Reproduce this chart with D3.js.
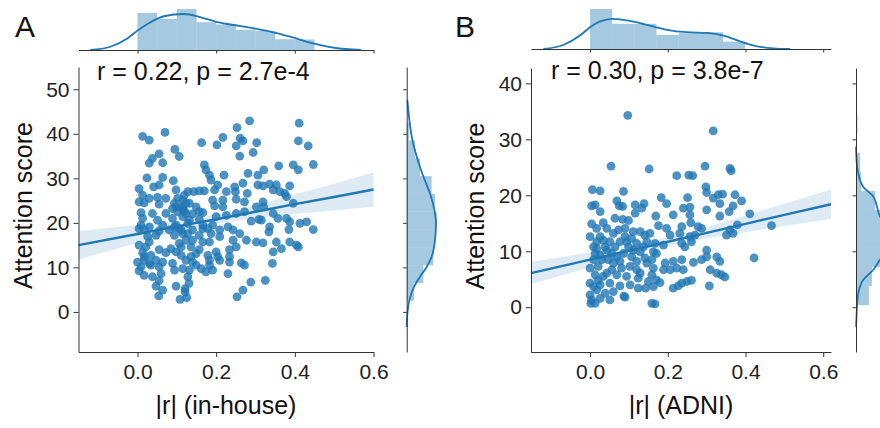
<!DOCTYPE html>
<html>
<head>
<meta charset="utf-8">
<script src="https://cdn.jsdelivr.net/npm/d3@7"></script>
<style>
  body { margin: 0; background: #fff; }
  svg { display: block; font-family: "Liberation Sans", Arial, sans-serif; }
  .tick text { font-size: 21px; fill: #222; }
  .domain, .tick line { stroke: #333; stroke-width: 1; }
</style>
</head>
<body>
<svg id="chart" width="880" height="428"></svg>
<script>
// ---- data ----
var panelLetters = ["A", "B"];
var statTexts = ["r = 0.22, p = 2.7e-4", "r = 0.30, p = 3.8e-7"];
var xLabels = ["|r| (in-house)", "|r| (ADNI)"];
var yLabel = "Attention score";
var xTickValues = [0, 0.2, 0.4, 0.6];
var inHouseYTicks = [0, 10, 20, 30, 40, 50];
var adniYTicks = [0, 10, 20, 30, 40];

// panel A: |r| vs attention score
var inHousePoints = [
  [0.285,42.9],[0.411,42.4],[0.253,41.4],[0.013,39.4],[0.030,38.6],[0.070,40.3],[0.217,39.2],[0.202,37.5],
  [0.261,39.0],[0.268,38.4],[0.163,38.0],[0.303,38.0],[0.251,37.3],[0.409,38.4],[0.434,37.3],[0.294,35.8],
  [0.260,35.0],[0.095,36.5],[0.106,34.9],[0.055,35.5],[0.038,34.5],[0.064,33.5],[0.030,33.4],[0.170,33.0],
  [0.447,33.1],[0.359,32.8],[0.396,33.0],[0.321,31.9],[0.409,31.9],[0.174,31.9],[0.183,30.7],[0.187,29.6],
  [0.220,30.7],[0.281,31.1],[0.306,30.7],[0.024,30.1],[0.064,30.2],[0.091,29.5],[0.004,27.7],[0.041,28.1],
  [0.055,28.5],[0.204,28.5],[0.247,28.1],[0.268,28.9],[0.306,28.5],[0.319,28.3],[0.336,28.7],[0.353,28.5],
  [0.387,28.3],[0.362,27.0],[0.345,27.4],[0.098,27.4],[0.128,27.0],[0.143,27.0],[0.157,27.2],[0.170,27.2],
  [0.196,27.4],[0.226,27.0],[0.249,27.0],[0.279,26.6],[0.374,26.6],[0.013,26.2],[0.030,25.5],[0.051,25.7],
  [0.072,25.5],[0.119,26.2],[0.115,25.1],[0.004,24.7],[0.017,24.5],[0.055,24.2],[0.094,24.4],[0.132,24.4],
  [0.149,23.6],[0.191,25.1],[0.217,25.1],[0.251,25.3],[0.272,24.7],[0.319,24.7],[0.379,25.9],[0.396,24.4],
  [0.098,23.6],[0.115,23.2],[0.196,23.8],[0.217,23.6],[0.302,23.6],[0.321,23.6],[0.009,22.3],[0.038,22.1],
  [0.072,22.1],[0.102,22.5],[0.123,22.1],[0.140,22.0],[0.166,22.3],[0.226,21.7],[0.251,22.1],[0.272,22.5],
  [0.345,22.1],[0.013,21.0],[0.051,20.6],[0.089,21.0],[0.115,21.4],[0.132,20.6],[0.157,20.8],[0.200,21.4],
  [0.309,20.8],[0.357,21.0],[0.379,21.0],[0.009,19.5],[0.030,19.1],[0.064,19.5],[0.098,19.5],[0.128,19.9],
  [0.166,19.5],[0.191,19.5],[0.289,20.4],[0.315,20.6],[0.387,20.2],[0.413,19.9],[0.430,20.2],[0.004,18.7],
  [0.017,18.4],[0.055,18.2],[0.081,18.4],[0.106,18.7],[0.140,18.4],[0.179,18.7],[0.209,18.4],[0.230,19.1],
  [0.243,18.4],[0.336,19.1],[0.334,18.0],[0.385,18.5],[0.447,18.5],[0.047,17.2],[0.094,17.2],[0.115,17.6],
  [0.157,17.2],[0.187,17.6],[0.260,17.6],[0.026,16.9],[0.123,16.1],[0.183,15.7],[0.209,16.9],[0.243,16.1],
  [0.277,16.1],[0.302,15.7],[0.319,15.5],[0.353,15.7],[0.387,15.7],[0.404,15.0],[0.409,14.6],[0.004,15.0],
  [0.021,14.6],[0.055,14.0],[0.085,14.2],[0.098,13.5],[0.136,14.6],[0.157,14.0],[0.200,13.5],[0.234,14.0],
  [0.251,14.6],[0.345,13.5],[0.366,14.2],[0.013,13.3],[0.034,12.7],[0.072,13.3],[0.111,12.7],[0.149,13.1],
  [0.179,12.7],[0.204,12.4],[0.234,12.4],[0.000,11.2],[0.017,11.6],[0.030,10.9],[0.047,11.6],[0.064,11.2],
  [0.089,10.9],[0.123,11.6],[0.140,11.2],[0.183,11.6],[0.234,11.2],[0.264,11.0],[0.272,10.5],[0.343,10.9],
  [0.009,10.1],[0.034,10.5],[0.055,10.1],[0.094,9.4],[0.115,9.7],[0.132,9.4],[0.162,9.7],[0.174,9.0],
  [0.191,9.4],[0.004,9.2],[0.017,8.2],[0.038,7.9],[0.060,8.6],[0.230,8.6],[0.128,7.9],[0.055,7.0],
  [0.047,5.8],[0.064,4.9],[0.054,3.6],[0.098,5.8],[0.121,5.2],[0.131,6.4],[0.108,2.8],[0.125,3.2],
  [0.121,4.5],[0.288,6.7],[0.325,7.1],[0.268,4.9],[0.253,3.4],[0.102,25.5],[0.111,23.6],[0.119,22.7],
  [0.123,24.4],[0.089,23.2],[0.094,19.1],[0.111,18.4],[0.128,17.6],[0.106,15.4],[0.111,14.6],[0.140,16.1],
  [0.136,12.4],[0.166,15.7],[0.030,15.7],[0.017,12.4],[0.149,10.5],[0.183,10.5],[0.209,11.6],[0.166,18.7],
  [0.157,22.5]
];
var inHouseFitX = [-0.15, 0, 0.1, 0.2, 0.3, 0.4, 0.5, 0.6];
var inHouseFit = [15.0, 17.5, 19.2, 20.8, 22.5, 24.2, 25.8, 27.5];
var inHouseBandLo = [11.8, 15.5, 18.0, 19.8, 21.1, 22.0, 22.8, 23.7];
var inHouseBandHi = [18.2, 19.5, 20.4, 21.8, 23.9, 26.4, 28.8, 31.3];
var inHouseXBins = [0, 0.05, 0.1, 0.15, 0.2, 0.25, 0.3, 0.35, 0.4, 0.45];
var inHouseXHist = [3.29, 2.77, 3.64, 2.47, 2.27, 1.80, 1.69, 0.96, 0.93];
var inHouseXKdeAt = [-0.12, -0.069, -0.026, 0.003, 0.033, 0.067, 0.118, 0.161, 0.203, 0.262, 0.330, 0.390, 0.441, 0.5, 0.568];
var inHouseXKde = [0, 0.29, 1.02, 1.80, 2.47, 3.0, 3.2, 2.91, 2.47, 2.13, 1.69, 1.16, 0.64, 0.20, 0];
var inHouseYBins = [2.5, 6.5, 10.5, 14.5, 18.5, 22.5, 26.5, 30.5, 34.5, 38.5, 42.5];
var inHouseYHist = [0.0098, 0.0224, 0.0358, 0.038, 0.0403, 0.038, 0.0335, 0.0179, 0.0112, 0.0031];
var inHouseYKdeAt = [-3.4, -0.4, 2.6, 5.6, 7.9, 10.1, 12.4, 16.1, 19.9, 22.9, 26.6, 30.4, 34.9, 39.4, 43.1, 47.6];
var inHouseYKde = [0, 0.0009, 0.0036, 0.0098, 0.0178, 0.0268, 0.0335, 0.038, 0.0393, 0.0372, 0.0313, 0.0224, 0.0134, 0.0067, 0.0036, 0.0009];

// panel B
var adniPoints = [
  [0.097,34.3],[0.317,31.5],[0.054,25.2],[0.152,24.7],[0.296,25.2],[0.360,24.8],[0.363,24.4],[0.223,23.5],
  [0.254,23.6],[0.264,23.5],[0.006,21.0],[0.026,20.8],[0.086,20.7],[0.298,21.5],[0.300,20.5],[0.330,20.1],
  [0.341,20.2],[0.373,20.1],[0.183,19.6],[0.251,19.6],[0.317,19.5],[0.069,19.0],[0.390,19.0],[0.075,18.1],
  [0.084,18.0],[0.116,18.3],[0.139,18.5],[0.197,18.5],[0.240,17.7],[0.257,17.9],[0.368,18.1],[0.334,18.5],
  [0.004,18.1],[0.013,18.3],[0.026,17.1],[0.116,16.8],[0.133,17.7],[0.300,17.4],[0.358,17.1],[0.411,16.7],
  [0.214,16.5],[0.257,16.5],[0.169,16.3],[0.334,16.3],[0.064,15.9],[0.084,15.7],[0.099,15.5],[0.034,15.1],
  [0.004,14.9],[0.259,15.1],[0.278,14.4],[0.379,14.7],[0.467,14.6],[0.176,14.6],[0.236,14.4],[0.017,14.1],
  [0.043,14.1],[0.111,13.5],[0.129,13.5],[0.197,14.1],[0.287,14.1],[0.360,13.8],[0.368,13.2],[0.000,12.6],
  [0.060,13.2],[0.090,12.6],[0.107,12.3],[0.141,12.9],[0.206,12.9],[0.231,13.2],[0.257,12.6],[0.270,12.9],
  [0.351,12.9],[0.017,11.7],[0.034,12.0],[0.077,11.7],[0.094,11.7],[0.120,11.4],[0.146,11.7],[0.167,11.4],
  [0.189,11.1],[0.236,11.4],[0.261,11.7],[0.017,10.5],[0.043,10.2],[0.064,10.8],[0.111,10.2],[0.129,9.9],
  [0.163,9.9],[0.244,10.8],[0.300,10.2],[0.026,9.3],[0.056,9.6],[0.086,9.6],[0.107,9.0],[0.141,8.8],
  [0.171,9.6],[0.300,9.0],[0.326,9.0],[0.422,8.8],[0.009,8.5],[0.047,8.5],[0.077,8.2],[0.120,8.2],
  [0.146,7.9],[0.193,7.9],[0.214,8.2],[0.236,8.5],[0.266,8.0],[0.287,8.5],[0.334,8.2],[0.000,7.0],
  [0.021,7.3],[0.056,6.7],[0.081,7.0],[0.120,6.7],[0.163,7.0],[0.189,6.7],[0.206,6.7],[0.223,7.0],
  [0.240,6.7],[0.309,6.7],[0.326,6.1],[0.338,5.8],[0.347,5.4],[0.013,5.8],[0.034,5.5],[0.069,5.8],
  [0.094,5.5],[0.124,5.2],[0.159,5.8],[0.171,4.9],[0.000,4.3],[0.026,4.0],[0.051,4.3],[0.077,3.8],
  [0.103,4.0],[0.124,3.4],[0.143,3.4],[0.163,3.7],[0.180,4.4],[0.236,4.3],[0.249,4.6],[0.261,4.8],
  [0.227,3.8],[0.214,3.4],[0.307,3.8],[0.017,3.1],[0.039,2.5],[0.060,2.8],[0.087,2.0],[0.090,1.8],
  [0.000,2.2],[0.004,1.3],[0.002,0.7],[0.013,0.7],[0.159,0.7],[0.167,0.6],[0.026,1.6],[0.051,1.3],
  [0.009,10.8],[0.013,9.6],[0.026,12.6],[0.039,10.8],[0.051,11.7],[0.069,9.0],[0.073,13.8],[0.090,14.1],
  [0.099,10.8],[0.060,7.9],[0.021,4.8],[0.043,6.1],[0.009,3.7],[0.030,8.5],[0.103,7.3],[0.137,10.8],
  [0.154,13.2],[0.159,8.5],[0.129,6.1],[0.150,4.6]
];
var adniFitX = [-0.152, 0, 0.1, 0.2, 0.3, 0.4, 0.5, 0.62];
var adniFit = [6.1, 8.5, 10.1, 11.7, 13.3, 14.9, 16.5, 18.4];
var adniBandLo = [4.1, 7.2, 9.2, 10.9, 12.3, 13.4, 14.5, 15.8];
var adniBandHi = [8.1, 9.8, 11.0, 12.5, 14.3, 16.4, 18.5, 21.0];
var adniXBins = [0, 0.057, 0.114, 0.171, 0.228, 0.285, 0.342, 0.399];
var adniXHist = [4.86, 3.06, 3.06, 1.71, 1.92, 2.04, 0.90];
var adniXKdeAt = [-0.12, -0.069, -0.026, 0, 0.026, 0.056, 0.095, 0.146, 0.198, 0.249, 0.301, 0.344, 0.387, 0.430, 0.472, 0.515];
var adniXKde = [0, 0.49, 1.63, 2.65, 3.35, 3.67, 3.47, 2.94, 2.33, 2.04, 1.96, 1.63, 0.90, 0.33, 0.08, 0];
var adniYBins = [0.4, 3.8, 7.2, 10.6, 14.0, 17.4, 20.8, 24.2, 27.6, 31.0, 34.4];
var adniYHist = [0.0174, 0.0214, 0.0483, 0.0537, 0.0403, 0.0255, 0.0067, 0.0054, 0.0007, 0.002];
var adniYKdeAt = [-3.5, -1.1, 0, 2.5, 4.9, 6.7, 8.5, 10.5, 12.5, 14.5, 16.2, 18, 19.8, 21.5, 23.9, 25, 28.7];
var adniYKde = [0, 0.0009, 0.0013, 0.0031, 0.0098, 0.0232, 0.0322, 0.0442, 0.0496, 0.0429, 0.0322, 0.0281, 0.0232, 0.0098, 0.0031, 0.0016, 0];

// ---- layout ----
var blue = "#1f77b4";
var svg = d3.select("#chart");

var panels = [
  { letter: panelLetters[0], stat: statTexts[0], xLabel: xLabels[0],
    left: 78.5, right: 373.5, top: 67, bottom: 352,
    xDomain: [-0.15, 0.6], yDomain: [-9, 55], yTicks: inHouseYTicks,
    margBase: 50, rightX: 406.7, letterX: 15, statX: 97, statY: 80,
    points: inHousePoints, fitX: inHouseFitX, fit: inHouseFit, lo: inHouseBandLo, hi: inHouseBandHi,
    xBins: inHouseXBins, xHist: inHouseXHist, xKdeAt: inHouseXKdeAt, xKde: inHouseXKde,
    yBins: inHouseYBins, yHist: inHouseYHist, yKdeAt: inHouseYKdeAt, yKde: inHouseYKde },
  { letter: panelLetters[1], stat: statTexts[1], xLabel: xLabels[1],
    left: 531, right: 831, top: 68, bottom: 352,
    xDomain: [-0.152, 0.62], yDomain: [-8, 42.75], yTicks: adniYTicks,
    margBase: 49, rightX: 856, letterX: 455, statX: 551, statY: 79,
    points: adniPoints, fitX: adniFitX, fit: adniFit, lo: adniBandLo, hi: adniBandHi,
    xBins: adniXBins, xHist: adniXHist, xKdeAt: adniXKdeAt, xKde: adniXKde,
    yBins: adniYBins, yHist: adniYHist, yKdeAt: adniYKdeAt, yKde: adniYKde }
];

panels.forEach(function(p) {
  var x = d3.scaleLinear().domain(p.xDomain).range([p.left, p.right]);
  var y = d3.scaleLinear().domain(p.yDomain).range([p.bottom, p.top]);

  // top marginal: histogram + kde of |r|
  var hMax = d3.max(p.xHist.concat(p.xKde)) * 1.05;
  var hy = d3.scaleLinear().domain([0, hMax]).range([p.margBase, 7]);
  var top = svg.append("g");
  top.selectAll("rect")
    .data(p.xHist)
    .enter()
    .append("rect")
    .attr("x", (d, i) => x(p.xBins[i]))
    .attr("width", (d, i) => x(p.xBins[i + 1]) - x(p.xBins[i]))
    .attr("y", d => hy(d))
    .attr("height", d => p.margBase - hy(d))
    .attr("fill", blue)
    .attr("fill-opacity", 0.4);
  top.append("path")
    .datum(p.xKdeAt.map((v, i) => [v, p.xKde[i]]))
    .attr("d", d3.line().x(d => x(d[0])).y(d => hy(d[1])).curve(d3.curveMonotoneX))
    .attr("fill", "none")
    .attr("stroke", blue)
    .attr("stroke-width", 1.8);
  top.append("g")
    .attr("transform", `translate(0, ${p.margBase})`)
    .call(d3.axisBottom(x).tickValues(xTickValues).tickFormat("").tickSize(3.5).tickSizeOuter(0));

  // right marginal: histogram + kde of score
  var wx = d3.scaleLinear().domain([0, 0.0423]).range([p.rightX, p.rightX + 31.5]);
  var side = svg.append("g");
  side.selectAll("rect")
    .data(p.yHist)
    .enter()
    .append("rect")
    .attr("x", p.rightX)
    .attr("width", d => wx(d) - p.rightX)
    .attr("y", (d, i) => y(p.yBins[i + 1]))
    .attr("height", (d, i) => y(p.yBins[i]) - y(p.yBins[i + 1]))
    .attr("fill", blue)
    .attr("fill-opacity", 0.4);
  side.append("path")
    .datum(p.yKdeAt.map((v, i) => [v, p.yKde[i]]))
    .attr("d", d3.line().x(d => wx(d[1])).y(d => y(d[0])).curve(d3.curveMonotoneY))
    .attr("fill", "none")
    .attr("stroke", blue)
    .attr("stroke-width", 1.8);
  side.append("g")
    .attr("transform", `translate(${p.rightX}, 0)`)
    .call(d3.axisLeft(y).tickValues(p.yTicks).tickFormat("").tickSize(3.5).tickSizeOuter(0));

  // joint: scatter, regression band and line
  var main = svg.append("g");
  main.selectAll("circle")
    .data(p.points)
    .enter()
    .append("circle")
    .attr("cx", d => x(d[0]))
    .attr("cy", d => y(d[1]))
    .attr("r", 4.4)
    .attr("fill", blue)
    .attr("fill-opacity", 0.8);

  var band = p.fitX.map((v, i) => [v, p.lo[i], p.hi[i], p.fit[i]]);
  main.append("path")
    .datum(band)
    .attr("d", d3.area().x(d => x(d[0])).y0(d => y(d[1])).y1(d => y(d[2])).curve(d3.curveMonotoneX))
    .attr("fill", blue)
    .attr("fill-opacity", 0.15);
  main.append("path")
    .datum(band)
    .attr("d", d3.line().x(d => x(d[0])).y(d => y(d[3])))
    .attr("fill", "none")
    .attr("stroke", blue)
    .attr("stroke-width", 2.4);

  main.append("g")
    .attr("transform", `translate(0, ${p.bottom})`)
    .call(d3.axisBottom(x).tickValues(xTickValues).tickFormat(d3.format(".1f")).tickSize(5).tickPadding(7).tickSizeOuter(0));
  main.append("g")
    .attr("transform", `translate(${p.left}, 0)`)
    .call(d3.axisLeft(y).tickValues(p.yTicks).tickSize(5).tickPadding(4).tickSizeOuter(0));

  // texts
  svg.append("text")
    .attr("x", p.letterX)
    .attr("y", 37)
    .style("font-size", "30px")
    .style("fill", "#111")
    .text(p.letter);
  svg.append("text")
    .attr("x", p.statX)
    .attr("y", p.statY)
    .style("font-size", "25px")
    .style("fill", "#111")
    .text(p.stat);
  svg.append("text")
    .attr("x", (p.left + p.right) / 2)
    .attr("y", 414)
    .style("font-size", "25px")
    .style("text-anchor", "middle")
    .style("fill", "#111")
    .text(p.xLabel);
  svg.append("text")
    .attr("transform", `translate(${p.left - 47}, ${(p.top + p.bottom) / 2 - 4}) rotate(-90)`)
    .style("font-size", "25px")
    .style("text-anchor", "middle")
    .style("fill", "#111")
    .text(yLabel);
});
</script>
</body>
</html>
